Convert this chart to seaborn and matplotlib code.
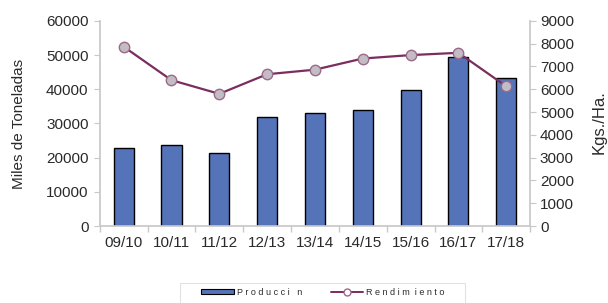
import numpy as np
import pandas as pd
import matplotlib
matplotlib.use("Agg")
import matplotlib.pyplot as plt
import seaborn as sns
from matplotlib.patches import Patch, Rectangle
from matplotlib.lines import Line2D

campanias = ["09/10", "10/11", "11/12", "12/13", "13/14", "14/15", "15/16", "16/17", "17/18"]
produccion = [22800, 23800, 21400, 32000, 33200, 33900, 39800, 49300, 43300]
rendimiento = [7870, 6400, 5800, 6660, 6860, 7350, 7500, 7600, 6130]

sns.set_theme(style="white")
plt.rcParams["font.family"] = ["Liberation Sans", "DejaVu Sans"]

bar_color = "#5473B8"
line_color = "#7A2D5E"
axis_grey = "#C8C8C8"
text_grey = "#2A2A2A"

df = pd.DataFrame({"campania": campanias, "produccion": produccion, "rendimiento": rendimiento})

fig = plt.figure(figsize=(6.08, 3.03), dpi=100)
ax = fig.add_axes([0.164, 0.254, 0.708, 0.677])

sns.barplot(data=df, x="campania", y="produccion", color=bar_color, width=0.42,
            edgecolor="black", linewidth=1.0, saturation=1, ax=ax)
ax.set_ylim(0, 60000)
ax.set_yticks(range(0, 60001, 10000))
ax.set_xlim(-0.5, len(campanias) - 0.5)
ax.set_xlabel("")
ax.set_ylabel("Miles de Toneladas", fontsize=11, color=text_grey)
ax.yaxis.set_label_coords(-0.172, 0.5)

ax2 = ax.twinx()
sns.lineplot(x=np.arange(len(campanias)), y=df["rendimiento"], ax=ax2, color=line_color,
             linewidth=1.6, marker="o", markersize=7.5, markerfacecolor="#C4BCC4",
             markeredgecolor="#9A6A8A", markeredgewidth=1.0)
ax2.set_ylim(0, 9000)
ax2.set_yticks(range(0, 9001, 1000))
ax2.set_xlim(-0.5, len(campanias) - 0.5)
ax2.set_ylabel("")
fig.text(0.986, 0.597, "Kgs./Ha.", rotation=90, fontsize=12, color=text_grey,
         ha="center", va="center")

for a in (ax, ax2):
    for s in a.spines.values():
        s.set_visible(False)
    a.tick_params(axis="y", labelsize=11, colors=text_grey, length=4, width=0.8,
                  color=axis_grey, pad=3)
ax.spines["left"].set_visible(True)
ax.spines["left"].set_color(axis_grey)
ax.spines["bottom"].set_visible(True)
ax.spines["bottom"].set_color(axis_grey)
ax2.spines["right"].set_visible(True)
ax2.spines["right"].set_color(axis_grey)
ax.tick_params(axis="y", left=True, pad=4)
ax2.tick_params(axis="y", right=True)
ax.tick_params(axis="x", labelsize=11, colors=text_grey, length=0, pad=7)
ax.set_xticks(np.arange(len(campanias)))
ax.set_xticklabels(campanias)
ax.set_xticks(np.arange(len(campanias) + 1) - 0.5, minor=True)
ax.tick_params(axis="x", which="minor", length=4, color=axis_grey, bottom=True)

# caja de la leyenda
fig.patches.append(Rectangle((180 / 608, -0.02), 285 / 608, 0.086, transform=fig.transFigure,
                             facecolor="white", edgecolor="#E2E2E2", linewidth=0.8))

handles = [
    Patch(facecolor=bar_color, edgecolor="black", linewidth=0.8),
    Line2D([0], [0], color=line_color, linewidth=1.4, marker="o", markersize=5,
           markerfacecolor="white", markeredgecolor="#9A6A8A"),
]
labels = ["P r o d u c c i   n", "R e n d i m  i e n t o"]
leg = fig.legend(handles, labels, loc="center", bbox_to_anchor=(0.531, 0.036), ncol=2,
                 fontsize=6.5, frameon=False, handlelength=3.6, handleheight=0.55,
                 handletextpad=0.3, columnspacing=3.2, borderpad=0.2)
for t in leg.get_texts():
    t.set_color(text_grey)

fig.savefig("out.png", dpi=100)
